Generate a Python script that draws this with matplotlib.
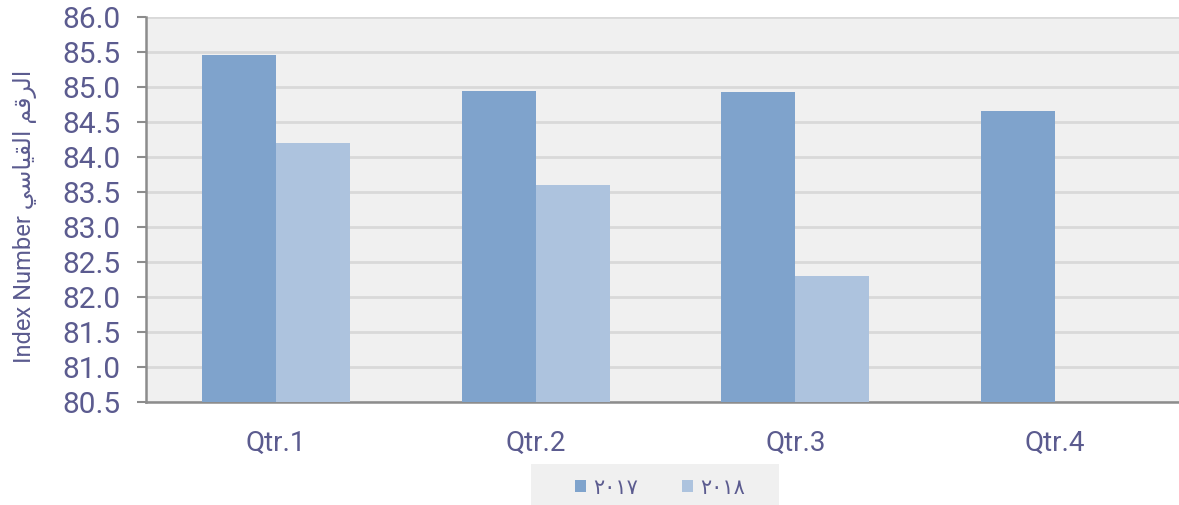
import matplotlib
matplotlib.use("Agg")
import matplotlib.pyplot as plt
from matplotlib.patches import Rectangle
import numpy as np

plt.rcParams['font.family'] = ['Roboto', 'DejaVu Sans']

quarters = ['Qtr.1', 'Qtr.2', 'Qtr.3', 'Qtr.4']
idx_2017 = [85.45, 84.94, 84.93, 84.65]
idx_2018 = [84.2, 83.6, 82.3]
series_names = ['\u0662\u0660\u0661\u0667', '\u0662\u0660\u0661\u0668']
y_ticks = [80.5, 81.0, 81.5, 82.0, 82.5, 83.0, 83.5, 84.0, 84.5, 85.0, 85.5, 86.0]

# arabic part written with presentation forms in visual order (matplotlib has no shaping)
ar_label = ('\uFEF2\uFEB3\uFE8E\uFEF4\uFED8\uFEDF\uFE8D'
            ' \uFEE2\uFED7\uFEAE\uFEDF\uFE8D')
y_label = 'Index Number ' + ar_label

txt = '#5b5b8f'
c17 = '#7fa3cc'
c18 = '#adc3de'

fig = plt.figure(figsize=(11.79, 5.05), dpi=100)
# plot area runs a bit past the right edge, as in the original
ax = fig.add_axes([146 / 1179, 1 - 402 / 505, (1185 - 146) / 1179, (402 - 17) / 505])
ax.set_facecolor('#f0f0f0')

x = np.arange(len(quarters))
w = 0.285
base = 80.5
ax.bar(x - w / 2, np.array(idx_2017) - base, w, bottom=base, color=c17, label=series_names[0], zorder=3)
ax.bar(x[:len(idx_2018)] + w / 2, np.array(idx_2018) - base, w, bottom=base, color=c18,
       label=series_names[1], zorder=3)

ax.set_xlim(-0.5, 3.5)
ax.set_ylim(80.5, 86.0)
ax.set_yticks(y_ticks)
ax.set_yticklabels(['%.1f' % v for v in y_ticks])
ax.set_xticks(x)
ax.set_xticklabels(quarters)
ax.grid(axis='y', color='#d9d9d9', linewidth=2, zorder=0)
ax.set_axisbelow(True)

for s in ['top', 'right']:
    ax.spines[s].set_visible(False)
for s in ['left', 'bottom']:
    ax.spines[s].set_color('#8c8c8c')
    ax.spines[s].set_linewidth(1.8)

ax.tick_params(axis='y', length=6.5, width=1.5, color='#8c8c8c', labelsize=21.5, labelcolor=txt, pad=12)
ax.tick_params(axis='x', length=0, labelsize=20, labelcolor=txt, pad=20)

fig.text(25 / 1179, 1 - 216 / 505, y_label, rotation=90, ha='center', va='center',
         fontsize=17, color=txt)

# grey legend box
fig.patches.append(Rectangle((531 / 1179, 0), 248 / 1179, 41 / 505, transform=fig.transFigure,
                             facecolor='#f0f0f0', edgecolor='none', zorder=0))

leg = fig.legend(loc='center', bbox_to_anchor=(660 / 1179, 1 - 488 / 505), ncol=2,
                 frameon=False, fontsize=15, handlelength=0.55, handleheight=0.55,
                 handletextpad=0.35, columnspacing=2.1, borderpad=0.2)
for t in leg.get_texts():
    t.set_color(txt)

fig.savefig('out.png', dpi=100)
